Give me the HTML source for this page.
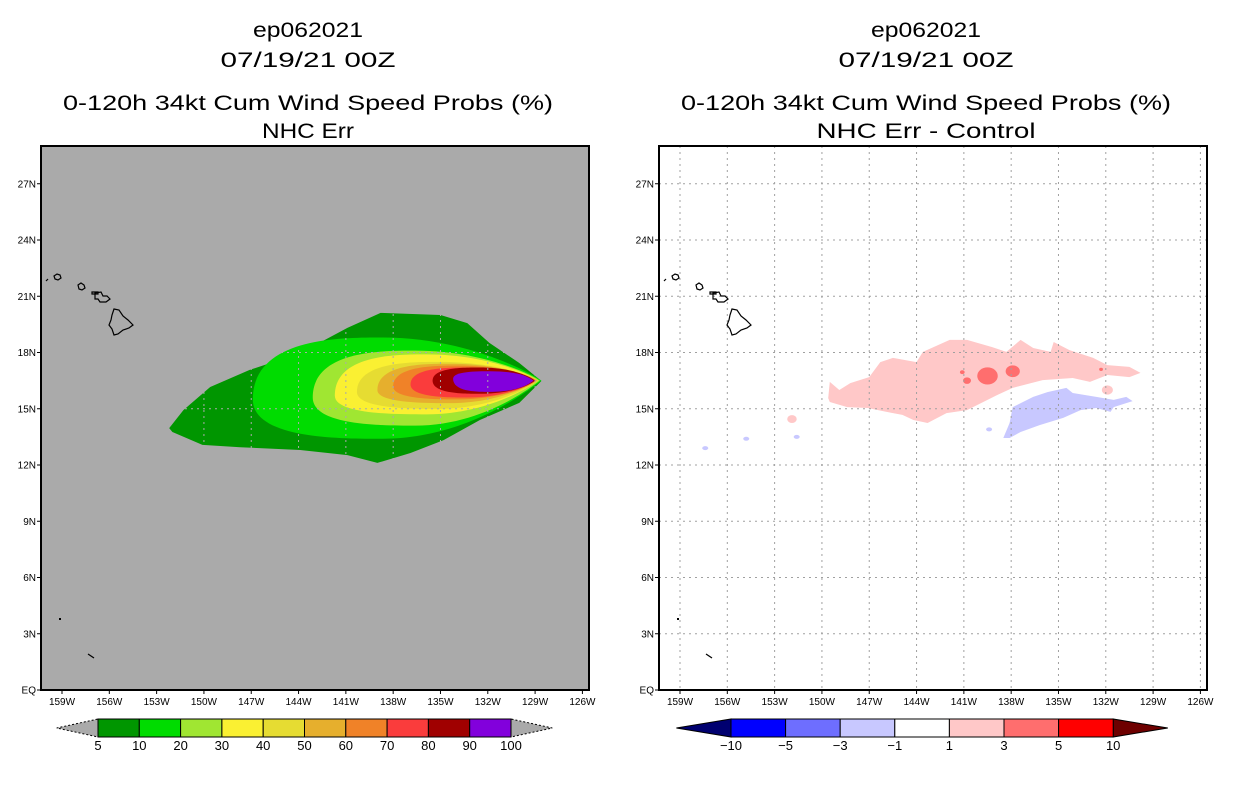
<!DOCTYPE html>
<html><head><meta charset="utf-8"><style>
html,body{margin:0;padding:0;background:#fff;}
svg{display:block;font-family:"Liberation Sans",sans-serif;}
</style></head><body>
<svg id="c" width="1236" height="800" viewBox="0 0 1236 800"></svg>
<script>
// ---- data ----
const lonTicks=[-159,-156,-153,-150,-147,-144,-141,-138,-135,-132,-129,-126];
const latTicks=[0,3,6,9,12,15,18,21,24,27];
const latLabels=["EQ","3N","6N","9N","12N","15N","18N","21N","24N","27N"];
// Left panel probability contours (teardrop per level)
const probLevels=[5,10,20,30,40,50,60,70,80,90];
const probColors=["#009600","#00dc00","#a0e632","#faf032","#e6dc32","#e6af2d","#f08228","#fa3c3c","#a00000","#8200dc"];
const westLon=[-152.2,-146.9,-143.1,-141.7,-140.3,-139.0,-138.0,-136.9,-135.5,-134.2];
const westLat=[14.0,15.5,15.6,15.7,15.9,16.0,16.2,16.3,16.5,16.6];
const northLat=[20.1,18.8,18.1,17.9,17.5,17.4,17.3,17.2,17.2,17.0];
const southLat=[12.1,13.4,14.1,14.7,15.0,15.3,15.5,15.6,15.8,15.9];
const eastLon=[-128.5,-128.6,-128.7,-128.8,-128.8,-128.9,-128.9,-129.0,-129.0,-129.1];
const eastLat=[16.5,16.5,16.5,16.5,16.5,16.5,16.5,16.5,16.5,16.5];
// Outer 5% contour polygon
const p5Lon=[-152.2,-151.3,-149.6,-147.1,-143.9,-140.9,-138.8,-135.0,-133.3,-131.9,-130.0,-128.6,-130.0,-132.5,-134.8,-136.9,-139.0,-140.9,-143.9,-147.7,-150.1,-152.0];
const p5Lat=[13.97,14.93,16.16,17.07,17.97,19.31,20.11,20.0,19.57,18.51,17.44,16.48,15.31,14.4,13.33,12.64,12.11,12.53,12.8,12.95,13.07,13.76];
// Right panel difference regions
const pinkLon=[-149.5,-148.9,-148.2,-147.0,-146.3,-145.5,-144.0,-143.6,-141.9,-140.8,-139.2,-138.3,-137.4,-136.6,-135.5,-135.3,-134.3,-132.8,-131.9,-130.5,-129.8,-130.5,-131.9,-133.0,-134.1,-136.0,-137.9,-138.9,-140.8,-142.1,-143.3,-144.2,-144.9,-145.9,-147.1,-148.4,-149.5,-149.6];
const pinkLat=[16.43,16.0,16.37,16.69,17.49,17.71,17.49,18.03,18.67,18.67,18.29,18.03,18.67,18.24,18.03,18.56,18.13,17.71,17.33,17.23,16.91,16.69,16.8,16.43,16.64,16.53,16.11,15.73,14.93,14.77,14.24,14.4,14.67,14.83,15.04,15.09,15.36,15.57];
const blueLon=[-138.5,-138.1,-137.9,-136.6,-135.7,-134.5,-134.1,-132.6,-131.5,-130.7,-130.3,-130.9,-131.5,-131.7,-132.6,-133.6,-134.7,-136.2,-137.4,-138.1];
const blueLat=[13.44,14.24,15.09,15.63,15.89,16.11,15.84,15.63,15.47,15.63,15.41,15.25,15.09,14.83,15.04,14.93,14.51,14.13,13.76,13.44];
const blobLon=[-139.5,-137.9,-141.1,-140.8,-132.3,-151.9,-131.9];
const blobLat=[16.75,17.0,16.95,16.5,17.1,14.45,16.0];
const blobR=[0.65,0.45,0.15,0.25,0.12,0.3,0.35];
const blobCol=["#ff6e6e","#ff6e6e","#ff6e6e","#ff6e6e","#ff6e6e","#ffc8c8","#ffc8c8"];
const bspecLon=[-151.6,-139.4,-157.4,-154.8];
const bspecLat=[13.5,13.9,12.9,13.4];
const probBarLabels=["5","10","20","30","40","50","60","70","80","90","100"];
const diffBarLabels=["-10","-5","-3","-1","1","3","5","10"];
const diffColors=["#0000ff","#6e6eff","#c8c8ff","#ffffff","#ffc8c8","#ff6e6e","#ff0000"];

// ---- helpers ----
const NS="http://www.w3.org/2000/svg";
const svg=document.getElementById('c');
function mk(t,a,p){const e=document.createElementNS(NS,t);for(const k in a)e.setAttribute(k,a[k]);(p||svg).appendChild(e);return e;}
const X0=41,Y0=146,W=548,H=544;
function xs(lon,off){return 62+off+(lon+159)*15.77;}
function ys(lat){return 690-lat*18.75;}

function panel(off,bg,name){
  const g=mk('g',{});
  
  
  const cp=mk('clipPath',{id:'cp'+off},g);
  mk('rect',{x:X0+off,y:Y0,width:W,height:H},cp);
  const r=mk('rect',{x:X0+off,y:Y0,width:W,height:H,fill:bg},g);
  
  
  const inner=mk('g',{'clip-path':'url(#cp'+off+')'},g);
  return {g,inner};
}
function poly(lons,lats,off,fill,par,name){
  const pts=lons.map((l,i)=>xs(l,off).toFixed(1)+','+ys(lats[i]).toFixed(1)).join(' ');
  const e=mk('polygon',{points:pts,fill:fill},par);
  
  
  return e;
}
function islands(off,par){
  const g=mk('g',{fill:'none',stroke:'#000','stroke-width':1.2},par);
  
  
  const o=off;
  mk('path',{d:`M${114+o},309 l5,1 l4,6 l5,4 l5,5 l-4,3 l-6,2 l-5,4 l-4,1 l-2,-6 l-3,-4 l2,-5 l1,-5z`},g);
  mk('path',{d:`M${95+o},293 l6,-1 l2,4 l4,0 l3,3 l-4,3 l-6,0 l-2,-3 l-3,0z`},g);
  mk('path',{d:`M${92+o},292 l6,0 l0,2 l-6,0z`},g);
  mk('path',{d:`M${78+o},285 l3,-2 l3,2 l1,3 l-3,2 l-3,-1z`},g);
  mk('path',{d:`M${54+o},276 l3,-2 l3,1 l1,3 l-3,2 l-3,-1z`},g);
  mk('path',{d:`M${46+o},281 l2,-2`},g);
  mk('rect',{x:59+o,y:618,width:2,height:2,fill:'#000',stroke:'none'},g);
  mk('path',{d:`M${88+o},654 l3,2 l3,2`},g);
}
function grid(off,par,col){
  const g=mk('g',{stroke:col,'stroke-width':1,'stroke-dasharray':'2,4'},par);
  
  
  lonTicks.forEach(l=>mk('line',{x1:xs(l,off),x2:xs(l,off),y1:Y0,y2:Y0+H},g));
  latTicks.slice(1).forEach(l=>mk('line',{x1:X0+off,x2:X0+off+W,y1:ys(l),y2:ys(l)},g));
}
function frameAxes(off,par){
  const f=mk('rect',{x:X0+off,y:Y0,width:W,height:H,fill:'none',stroke:'#000','stroke-width':2},par);
  
  
  const ax=mk('g',{'font-size':'10','fill':'#000'},par);
  
  
  lonTicks.forEach(l=>{
    const x=xs(l,off);
    mk('line',{x1:x,x2:x,y1:Y0+H,y2:Y0+H+4,stroke:'#000'},ax);
    const t=mk('text',{x:x,y:705,'text-anchor':'middle'},ax);t.textContent=Math.abs(l)+'W';
    
    
  });
  latTicks.forEach((l,i)=>{
    const y=ys(l);
    mk('line',{x1:X0+off-4,x2:X0+off,y1:y,y2:y,stroke:'#000'},ax);
    const t=mk('text',{x:X0+off-5,y:y+3.5,'text-anchor':'end'},ax);t.textContent=latLabels[i];
    
    
  });
}
function titles(cx,l4){
  const lines=[["ep062021",30,110],["07/19/21 00Z",60,175],["0-120h 34kt Cum Wind Speed Probs (%)",103,490],[l4[0],131,l4[1]]];
  lines.forEach((L,i)=>{
    const t=mk('text',{x:cx,y:L[1]+7,'text-anchor':'middle','font-size':'21',textLength:L[2],lengthAdjust:'spacingAndGlyphs'});
    t.textContent=L[0];
    
    
  });
}
function teardrop(i,off,par){
  const w=[xs(westLon[i],off),ys(westLat[i])],e=[xs(eastLon[i],off),ys(eastLat[i])];
  const n=ys(northLat[i]),s=ys(southLat[i]);
  const mx=w[0]+(e[0]-w[0])*0.45;
  const d=`M${w[0]},${w[1]} C${w[0]},${n} ${mx-(e[0]-w[0])*0.15},${n} ${mx},${n} C${mx+(e[0]-w[0])*0.3},${n} ${e[0]-8},${e[1]-6} ${e[0]},${e[1]} C${e[0]-8},${e[1]+6} ${mx+(e[0]-w[0])*0.3},${s} ${mx},${s} C${mx-(e[0]-w[0])*0.15},${s} ${w[0]},${s} ${w[0]},${w[1]}Z`;
  const p=mk('path',{d:d,fill:probColors[i]},par);
  
  
}

// ---- left panel ----
const L=panel(0,'#aaaaaa','left-prob-map');
poly(p5Lon,p5Lat,0,probColors[0],L.inner,'contour-5pct');
for(let i=1;i<probLevels.length;i++) teardrop(i,0,L.inner);
grid(0,L.inner,'#aaaaaa');
islands(0,L.inner);
frameAxes(0,L.g);
titles(308,["NHC Err",92]);

// ---- right panel ----
const R=panel(618,'#ffffff','right-diff-map');
poly(pinkLon,pinkLat,618,'#ffc8c8',R.inner,'diff-positive-region');
poly(blueLon,blueLat,618,'#c8c8ff',R.inner,'diff-negative-region');
blobLon.forEach((l,i)=>{
  const e=mk('ellipse',{cx:xs(l,618),cy:ys(blobLat[i]),rx:blobR[i]*15.77,ry:blobR[i]*18.75*0.7,fill:blobCol[i]},R.inner);
  
  
});
bspecLon.forEach((l,i)=>{
  const e=mk('ellipse',{cx:xs(l,618),cy:ys(bspecLat[i]),rx:3,ry:2,fill:'#c8c8ff'},R.inner);
  
  
});
grid(618,R.inner,'#a0a0a0');
islands(618,R.inner);
frameAxes(618,R.g);
titles(926,["NHC Err - Control",219]);

// ---- colorbars ----
function colorbar(x0,bw,colors,labels,triL,triR,name){
  const g=mk('g',{});
  
  
  const y0=719,h=18,n=colors.length;
  mk('polygon',{points:`${x0},${y0} ${x0},${y0+h} ${x0-bw},${y0+h/2}`,fill:triL,stroke:'#000','stroke-width':1,'stroke-dasharray':triL==='#aaaaaa'?'2,2':'none'},g);
  mk('polygon',{points:`${x0+n*bw},${y0} ${x0+n*bw},${y0+h} ${x0+(n+1)*bw},${y0+h/2}`,fill:triR,stroke:'#000','stroke-width':1,'stroke-dasharray':triR==='#aaaaaa'?'2,2':'none'},g);
  colors.forEach((c,i)=>{
    const r=mk('rect',{x:x0+i*bw,y:y0,width:bw,height:h,fill:c,stroke:'#000','stroke-width':1},g);
    
    
  });
  labels.forEach((s,i)=>{
    const t=mk('text',{x:x0+i*bw,y:750,'text-anchor':'middle','font-size':'13'},g);
    t.textContent=s.replace('-','\u2212');
    
    
  });
}
colorbar(98,41.3,probColors,probBarLabels,'#aaaaaa','#aaaaaa','prob-colorbar');
colorbar(731,54.6,diffColors,diffBarLabels,'#000070','#6e0000','diff-colorbar');
</script>
</body></html>
